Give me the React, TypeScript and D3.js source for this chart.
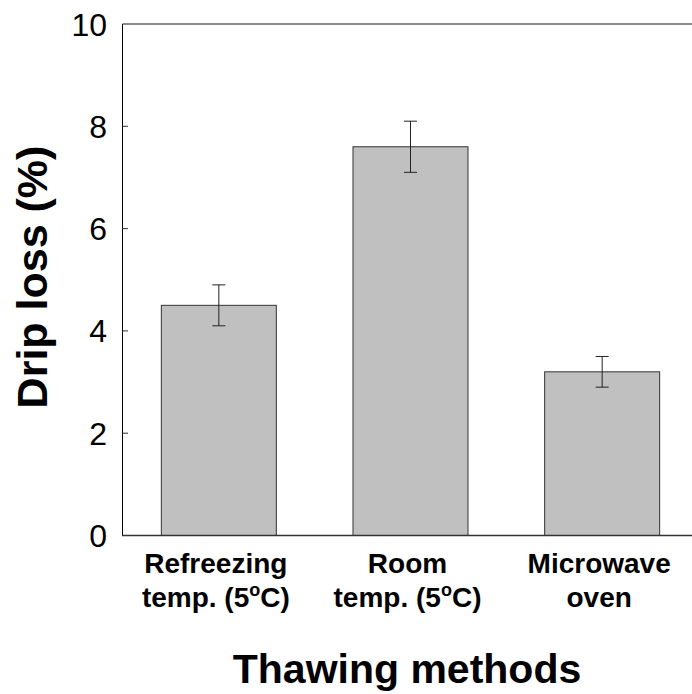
import React from "react";
import * as d3 from "d3";

const categories = ["Refreezing|temp. (5°C)", "Room|temp. (5°C)", "Microwave|oven"];
const values = [4.5, 7.6, 3.2];
const errors = [0.4, 0.5, 0.3];
const yTicks = [0, 2, 4, 6, 8, 10];

const W = 692;
const H = 694;
const FONT = "'Liberation Sans', Arial, sans-serif";

function Label({ x, y, text }: { x: number; y: number; text: string }) {
  const parts = text.split("°");
  if (parts.length === 1) {
    return (
      <text x={x} y={y} textAnchor="middle">{text}</text>
    );
  }
  return (
    <text x={x} y={y} textAnchor="middle">
      {parts[0]}
      <tspan fontSize={18} dy={-11}>o</tspan>
      <tspan dy={11}>{parts[1]}</tspan>
    </text>
  );
}

export default function App() {
  const x = d3.scaleBand<string>().domain(categories).range([123, 698]).paddingInner(0.4).paddingOuter(0.2);
  const y = d3.scaleLinear().domain([0, 10]).range([535.5, 24]);
  const bw = x.bandwidth();

  return (
    <svg width={W} height={H} style={{ position: "absolute", left: 0, top: 0 }} fontFamily={FONT}>
      <rect width={W} height={H} fill="#fff" />
      <line x1={122.5} x2={W} y1={y(10)} y2={y(10)} stroke="#666" strokeWidth={1.5} />
      {categories.map((c, i) => (
        <rect key={c} x={x(c)!} y={y(values[i])} width={bw} height={y(0) - y(values[i])}
          fill="#c0c0c0" stroke="#333" strokeWidth={1} />
      ))}
      {categories.map((c, i) => {
        const cx = x(c)! + bw / 2;
        const t = y(values[i] + errors[i]);
        const b = y(values[i] - errors[i]);
        return (
          <g key={"e" + c} stroke="#222" strokeWidth={1}>
            <line x1={cx} x2={cx} y1={t} y2={b} />
            <line x1={cx - 6.5} x2={cx + 6.5} y1={t} y2={t} />
            <line x1={cx - 6.5} x2={cx + 6.5} y1={b} y2={b} />
          </g>
        );
      })}
      <line x1={122.5} x2={122.5} y1={y(10)} y2={y(0)} stroke="#000" strokeWidth={1} />
      <line x1={122} x2={W} y1={y(0)} y2={y(0)} stroke="#333" strokeWidth={1.5} />
      {yTicks.map((t) => (
        <g key={t}>
          {t > 0 && t < 10 && (
            <line x1={122.5} x2={128} y1={y(t)} y2={y(t)} stroke="#333" strokeWidth={1} />
          )}
          <text x={107} y={y(t)} dy="0.36em" textAnchor="end" fontSize={32}>{t}</text>
        </g>
      ))}
      <g fontWeight="bold" fontSize={28}>
        {categories.map((c) => {
          const cx = x(c)! + bw / 2 - 3;
          const [l1, l2] = c.split("|");
          return (
            <g key={"l" + c}>
              <Label x={cx} y={573} text={l1} />
              <Label x={cx} y={607} text={l2} />
            </g>
          );
        })}
      </g>
      <text x={407} y={683} textAnchor="middle" fontWeight="bold" fontSize={41}>Thawing methods</text>
      <text transform={`translate(47,277) rotate(-90)`} textAnchor="middle" fontWeight="bold" fontSize={43}>Drip loss (%)</text>
    </svg>
  );
}
